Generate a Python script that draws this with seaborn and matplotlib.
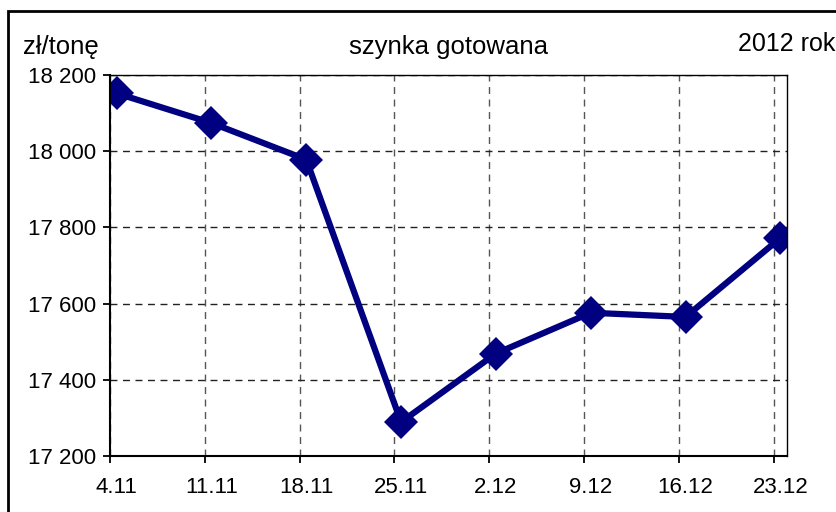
import matplotlib
matplotlib.use("Agg")
import matplotlib.pyplot as plt
import seaborn as sns
import pandas as pd
import numpy as np
from matplotlib.patches import Rectangle

dates = ["4.11", "11.11", "18.11", "25.11", "2.12", "9.12", "16.12", "23.12"]
prices = [18152, 18074, 17978, 17289, 17469, 17576, 17565, 17772]
y_ticks = [17200, 17400, 17600, 17800, 18000, 18200]
y_tick_labels = ["17 200", "17 400", "17 600", "17 800", "18 000", "18 200"]

sns.set_style("white")
plt.rcParams['font.family'] = ['Liberation Sans', 'DejaVu Sans']
plt.rcParams['text.color'] = 'black'
plt.rcParams['xtick.color'] = 'black'
plt.rcParams['ytick.color'] = 'black'
plt.rcParams['xtick.labelcolor'] = 'black'
plt.rcParams['ytick.labelcolor'] = 'black'

df = pd.DataFrame({"pos": np.arange(len(dates)), "price": prices})

fig = plt.figure(figsize=(8.37, 5.12), dpi=100)
ax = fig.add_axes([110/837, 1-456/512, (787-110)/837, (456-75)/512])

sns.lineplot(data=df, x="pos", y="price", ax=ax, color="#000080", linewidth=4.5,
             marker="D", markersize=17, markeredgecolor="#000080", markeredgewidth=0)

off = 0.07
ax.set_xlim(-off, 7.07)
ax.set_ylim(17200, 18200)

ax.set_xticks(np.arange(len(dates)))
ax.set_xticklabels(dates, fontsize=16, color="black")
ax.set_xticks(np.arange(len(dates)) - off, minor=True)
ax.tick_params(axis="x", which="major", length=0, pad=15)
ax.tick_params(axis="x", which="minor", length=5, width=1.3, color="black", direction="out", bottom=True)

ax.set_yticks(y_ticks)
ax.set_yticklabels(y_tick_labels, fontsize=16, color="black")
ax.tick_params(axis="y", which="major", length=5, width=1.3, color="black", direction="out", left=True, pad=5)

ax.grid(False)
ax.xaxis.grid(True, which="minor", linestyle=(0, (5, 4)), color="#555555", linewidth=1)
ax.yaxis.grid(True, which="major", linestyle=(0, (5, 4)), color="#222222", linewidth=1)
ax.set_axisbelow(True)

ax.set_xlabel("")
ax.set_ylabel("")

for s in ["left", "bottom"]:
    ax.spines[s].set_linewidth(1.5)
    ax.spines[s].set_color("black")
for s in ["top", "right"]:
    ax.spines[s].set_linewidth(1)
    ax.spines[s].set_color("black")

fig.text(23/837, 1-47/512, "zł/tonę", fontsize=18.5, ha="left", va="center", color="black")
fig.text(449/837, 1-47/512, "szynka gotowana", fontsize=18.5, ha="center", va="center", color="black")
fig.text(835/837, 1-44/512, "2012 rok", fontsize=18, ha="right", va="center", color="black")

fig.patches.append(Rectangle((8/837, -0.1), 1.2, 1.1 - 11/512, transform=fig.transFigure,
                             fill=False, edgecolor="black", linewidth=2, figure=fig))

fig.savefig("out.png", dpi=100)
